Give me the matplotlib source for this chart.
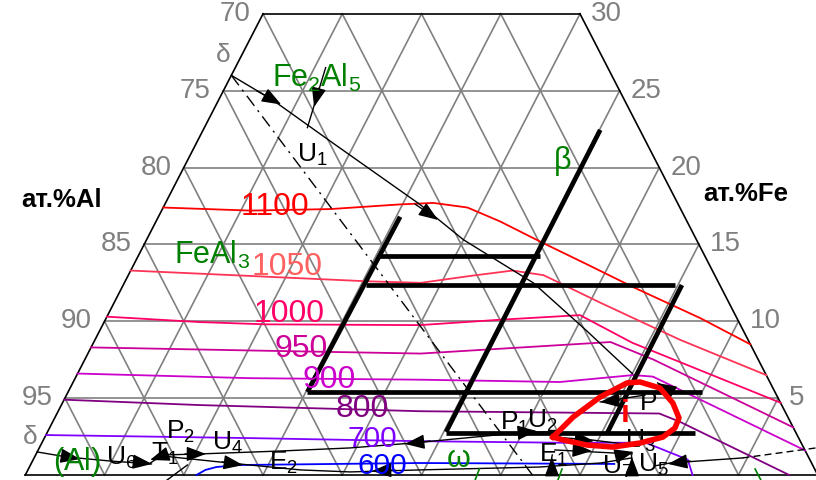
import matplotlib
matplotlib.use("Agg")
import matplotlib.pyplot as plt

plt.rcParams['font.family'] = ['Liberation Sans', 'DejaVu Sans']
plt.rcParams['mathtext.fontset'] = 'custom'
plt.rcParams['mathtext.rm'] = 'Liberation Sans'
plt.rcParams['mathtext.it'] = 'Liberation Sans:italic'
plt.rcParams['mathtext.bf'] = 'Liberation Sans:bold'

# compositions are (at.% Cu, at.% Fe), the rest is Al

# liquidus isotherms
iso_temps = [1100, 1050, 1000, 950, 900, 800, 700, 600]
iso_cu = [
    [0, 5.6, 10.6, 14.8, 16.9, 19.2, 21.7, 25.1, 28.6, 32.3, 37.5, 41.5],
    [0, 6.6, 15.3, 18.7, 21.6, 24.1, 26.2, 30.7, 36.9, 43.5],
    [0, 6.0, 10.3, 20.0, 24.9, 29.8, 34.0, 45.3],
    [0, 10.2, 21.0, 32.6, 35.9, 46.9],
    [0, 11.0, 21.8, 30.7, 35.1, 36.4, 48.4],
    [0, 8.7, 22.8, 38.0, 39.6, 48.2],
    [0, 13.0, 23.8, 32.7, 38.1, 41.3, 42.1],
    [10.8, 11.2, 11.8, 13.2, 24.5, 36.8],
]
iso_fe = [
    [17.4, 17.2, 17.3, 17.6, 17.7, 17.4, 16.5, 15.1, 13.7, 12.2, 10.2, 8.5],
    [13.3, 13.0, 12.6, 12.5, 12.95, 13.3, 13.0, 11.2, 8.8, 6.5],
    [10.3, 9.95, 9.8, 9.75, 10.1, 10.4, 8.6, 4.7],
    [8.3, 8.1, 7.9, 8.65, 7.5, 3.1],
    [6.6, 6.3, 6.2, 6.05, 6.5, 6.4, 1.6],
    [4.9, 4.55, 4.15, 4.0, 3.45, 0],
    [2.6, 2.4, 2.2, 2.1, 2.1, 1.0, 0],
    [0, 0.33, 0.52, 0.65, 0.78, 0.72],
]
iso_line_colors = ['#ff0000', '#ff3355', '#ff0066', '#cc0099', '#cc00cc', '#800080', '#8000ff', '#0000ff']
iso_text_colors = ['#ff0000', '#ff6060', '#ff0066', '#cc0099', '#cc00cc', '#800080', '#8000ff', '#0000ff']
iso_label_cu = [7.0, 9.8, 11.4, 13.3, 16.1, 19.1, 20.7, 22.2]
iso_label_fe = [17.45, 13.5, 10.45, 8.2, 6.2, 4.3, 2.35, 0.6]
iso_label_size = [23, 23, 23, 23, 23, 23, 21.5, 21.5]

# heavy black frame lines
bold_cu = [[15.1, 15.25], [15.1, 40.0], [15.2, 25.35], [15.3, 34.8],
           [25.15, 25.05], [25.2, 40.9], [35.35, 35.25]]
bold_fe = [[5.4, 16.8], [5.4, 5.4], [14.25, 14.25], [12.36, 12.36],
           [2.8, 22.45], [2.73, 2.73], [2.73, 12.36]]

# icosahedral i-phase field
i_cu = [32.06, 32.68, 33.73, 34.97, 35.76, 37.21, 38.52, 39.39, 39.46, 39.0,
        37.74, 36.17, 34.47, 32.79, 32.06]
i_fe = [2.47, 3.77, 5.07, 5.99, 6.05, 5.66, 4.68, 3.71, 3.06, 2.47,
        2.08, 1.82, 1.95, 2.28, 2.47]

# monovariant lines
mono_cu = [
    [0, 3.4, 8.6, 16.1, 20.0, 25.8, 30.7, 35.0],
    [6.5, 5.7],
    [0, 2.05, 4.9, 7.6],
    [7.5, 8.0, 10.3, 15.3, 19.6, 23.4, 30.3, 32.0],
    [8.0, 12.5, 17.2, 20.4, 24.7, 32.2, 35.9, 37.7],
    [39.4, 40.3, 44.7],
    [32.06, 34.6, 37.8],
    [33.0, 32.6],
    [38.3, 37.6],
    [32.6, 37.6],
    [36.5, 33.9],
    [38.3, 36.9],
    [9.0, 9.9],
]
mono_fe = [
    [26.0, 24.4, 21.6, 17.6, 15.3, 12.5, 9.4, 6.6],
    [22.6, 26.5],
    [1.5, 1.17, 0.91, 0.72],
    [0.78, 1.3, 1.37, 1.56, 1.76, 2.08, 2.8, 2.8],
    [1.24, 0.78, 0.33, 0.2, 0.33, 0.52, 0.78, 1.11],
    [0.59, 0.78, 1.11],
    [2.47, 2.28, 1.89],
    [0, 1.3],
    [0, 1.3],
    [1.63, 1.37],
    [5.2, 4.75],
    [5.33, 5.99],
    [-0.46, 0.65],
]
dashed_cu = [44.7, 49.0]
dashed_fe = [1.11, 1.76]
dashdot_cu = [0, 32.0]
dashdot_fe = [26.0, 0]

# arrow heads: tail -> tip
arrow_tail = [(2.1, 25.0), (15.77, 17.63), (5.94, 25.18), (1.70, 1.24), (6.5, 0.85),
              (8.32, 1.37), (9.39, 1.37), (11.99, 0.85), (24.43, 2.21), (29.53, 2.73),
              (23.16, 0.33), (33.23, 0), (33.51, 2.34), (33.87, 1.63), (36.71, 1.24),
              (38.28, 0), (41.49, 0.91), (35.08, 4.88), (38.26, 5.33)]
arrow_tip = [(4.1, 24.1), (17.75, 16.59), (6.25, 23.94), (2.93, 1.04), (7.64, 0.72),
             (7.38, 0.98), (10.72, 1.37), (13.41, 0.65), (22.95, 2.02), (30.85, 2.86),
             (21.74, 0.26), (32.64, 1.17), (34.78, 2.21), (34.97, 1.56), (37.65, 1.5),
             (37.69, 1.17), (40.19, 0.72), (33.89, 4.75), (36.86, 5.99)]

# short phase-boundary stubs at the Al-Cu side
stub_cu = [[28.55, 28.45], [33.77, 33.67], [45.85, 46.58]]
stub_fe = [[-0.35, 0.4], [-0.33, 0.39], [0.39, -0.33]]

# invariant points
point_names = ['U_1', 'P_2', 'T_1', 'U_4', 'E_2', 'U_6', 'P_1', 'U_2', 'E_1', 'P', 'U_3', 'U_7', 'U_5']
point_cu = [7.7, 8.4, 8.1, 11.7, 15.9, 5.5, 29.2, 30.85, 32.7, 36.95, 37.7, 37.1, 39.3]
point_fe = [20.8, 2.8, 1.37, 2.08, 0.78, 1.11, 3.38, 3.51, 1.3, 4.68, 2.25, 0.52, 0.65]

# phase fields
phase_names = ['Fe_2Al_5', 'FeAl_3', '\\beta', '(Al)', '\\omega']
phase_cu = [5.5, 4.6, 23.7, 2.8, 26.8]
phase_fe = [25.8, 14.3, 20.4, 0.85, 1.04]

al_ticks = [70, 75, 80, 85, 90, 95]
fe_ticks = [30, 25, 20, 15, 10, 5]


def tern(cu, fe):
    if isinstance(cu, list):
        return [c + f / 2 for c, f in zip(cu, fe)], list(fe)
    return cu + fe / 2, fe


fig = plt.figure(figsize=(8.16, 4.8), dpi=100)
ax = fig.add_axes([0, 0, 1, 1])
ax.set_xlim(-1.596, 49.89)
ax.set_ylim(-0.325, 30.9)
ax.axis('off')

grey = '#808080'
# grid
for k in range(5, 50, 5):
    ax.plot(*tern([k, k], [0, min(30, 50 - k)]), color=grey, lw=1.2, zorder=1)
    ax.plot(*tern([k, max(0, k - 30)], [0, min(k, 30)]), color=grey, lw=1.2, zorder=1)
for f in range(5, 30, 5):
    ax.plot(*tern([0, 50 - f], [f, f]), color=grey, lw=1.2, zorder=1)

# frame
for cu, fe in [([0, 0], [0, 30]), ([50, 20], [0, 30]), ([0, 20], [30, 30]), ([0, 50], [0, 0])]:
    ax.plot(*tern(cu, fe), color='black', lw=1.2, zorder=2)

for al in al_ticks:
    ax.annotate(str(al), xy=tern(0, 100 - al), xytext=(-9, 0), textcoords='offset points',
                ha='right', va='center', color=grey, fontsize=20)
for fe in fe_ticks:
    ax.annotate(str(fe), xy=tern(50 - fe, fe), xytext=(8, 0), textcoords='offset points',
                ha='left', va='center', color=grey, fontsize=20)
ax.text(*tern(-1.19, 27.3), 'δ', color=grey, fontsize=19, ha='center', va='center')
ax.text(*tern(-0.91, 2.5), 'δ', color=grey, fontsize=19, ha='center', va='center')

ax.text(0.075, 0.583, 'ат.%Al', transform=ax.transAxes, fontsize=18.5, fontweight='bold',
        ha='center', va='center')
ax.text(0.914, 0.596, 'ат.%Fe', transform=ax.transAxes, fontsize=18.5, fontweight='bold',
        ha='center', va='center')

# isotherms
for t, cu, fe, lc, tc, lx, ly, fs in zip(iso_temps, iso_cu, iso_fe, iso_line_colors,
                                         iso_text_colors, iso_label_cu, iso_label_fe,
                                         iso_label_size):
    ax.plot(*tern(cu, fe), color=lc, lw=1.3, zorder=3)
    ax.text(*tern(lx, ly), str(t), color=tc, fontsize=fs, ha='center', va='center', zorder=6)

# monovariant lines
for cu, fe in zip(mono_cu, mono_fe):
    ax.plot(*tern(cu, fe), color='black', lw=1.0, zorder=4)
ax.plot(*tern(dashed_cu, dashed_fe), color='black', lw=1.0, ls=(0, (5, 3)), zorder=4)
ax.plot(*tern(dashdot_cu, dashdot_fe), color='black', lw=1.0, ls=(0, (9, 4, 1.5, 4)), zorder=4)
for cu, fe in zip(stub_cu, stub_fe):
    ax.plot(*tern(cu, fe), color='#008000', lw=1.2, zorder=4)

for (tc, tf), (hc, hf) in zip(arrow_tail, arrow_tip):
    ax.annotate('', xy=tern(hc, hf), xytext=tern(tc, tf),
                arrowprops=dict(arrowstyle='-|>,head_length=1.2,head_width=0.45',
                                mutation_scale=10, color='black', lw=1.0,
                                shrinkA=0, shrinkB=0), zorder=5)

# invariant point labels sit under the heavy lines
for name, cu, fe in zip(point_names, point_cu, point_fe):
    ax.text(*tern(cu, fe), r'$\mathrm{%s}$' % name, color='black', fontsize=19,
            ha='center', va='center', zorder=4.5)

# heavy lines and i-phase loop
for cu, fe in zip(bold_cu, bold_fe):
    ax.plot(*tern(cu, fe), color='black', lw=3.4, solid_capstyle='butt', zorder=5)
ax.plot(*tern(i_cu, i_fe), color='#ff0000', lw=4.0, zorder=5)
ax.text(*tern(35.86, 3.97), 'i', color='#ff0000', fontsize=23, fontweight='bold',
        ha='center', va='center', zorder=6)

for name, cu, fe in zip(phase_names, phase_cu, phase_fe):
    ax.text(*tern(cu, fe), r'$\mathrm{%s}$' % name, color='#008000', fontsize=22,
            ha='center', va='center', zorder=6)

fig.savefig('out.png', dpi=100)
